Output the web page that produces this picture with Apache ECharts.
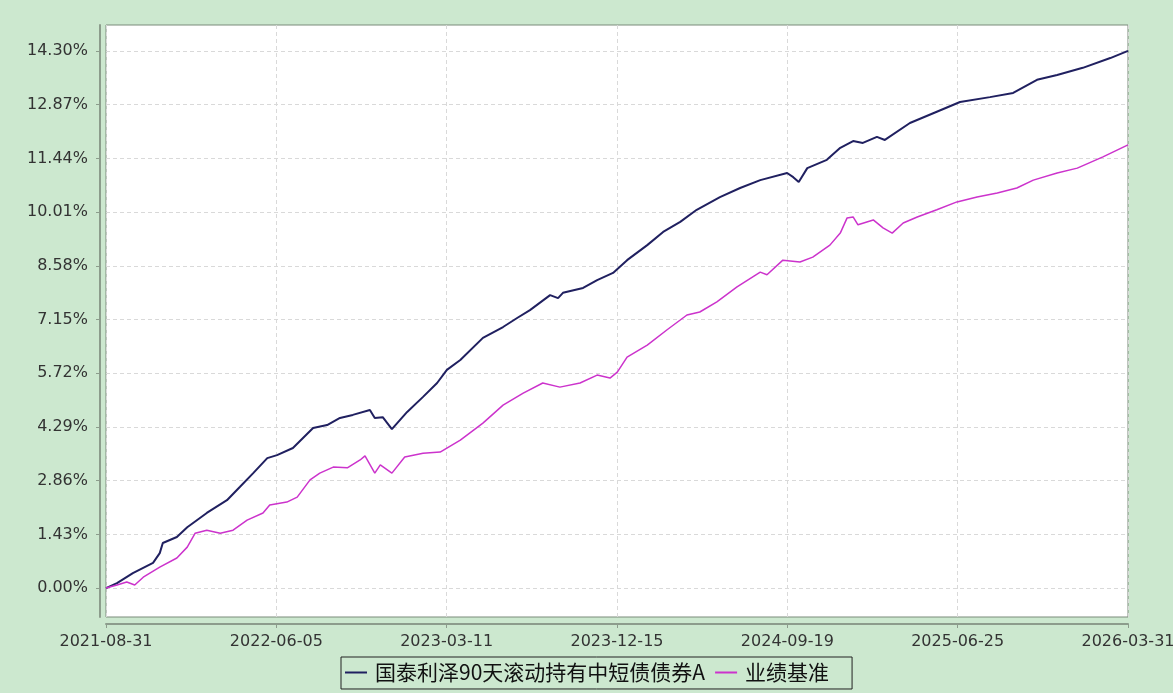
<!DOCTYPE html>
<html>
<head>
<meta charset="utf-8">
<script src="https://cdn.jsdelivr.net/npm/echarts@6/dist/echarts.min.js"></script>
<style>
  html, body { margin: 0; padding: 0; background: #cce8cf; }
  #chart { width: 1173px; height: 693px; }
</style>
</head>
<body>
<div id="chart"></div>
<script>
// x values are days since 2021-08-31, y values are cumulative return in %
const xTickLabels = ['2021-08-31', '2022-06-05', '2023-03-11', '2023-12-15', '2024-09-19', '2025-06-25', '2026-03-31']
const xTickDays = [0, 278.83, 557.67, 836.5, 1115.33, 1394.17, 1673]
const yTicks = [0, 1.43, 2.86, 4.29, 5.72, 7.15, 8.58, 10.01, 11.44, 12.87, 14.30]

const fundName = '国泰利泽90天滚动持有中短债债券A'
const benchName = '业绩基准'

const fundDays = [0, 18, 44, 77, 88, 93, 116, 133, 165, 198, 219, 241, 264, 280, 306, 339, 362, 383, 404, 432, 440, 453, 468, 493, 519, 542, 558, 580, 617, 650, 673, 694, 727, 740, 748, 781, 804, 830, 853, 886, 912, 940, 967, 1005, 1038, 1071, 1115, 1125, 1134, 1148, 1180, 1202, 1223, 1239, 1262, 1275, 1316, 1360, 1398, 1447, 1485, 1524, 1557, 1599, 1644, 1673]
const fundValues = [0.00, 0.13, 0.40, 0.67, 0.93, 1.20, 1.36, 1.62, 2.00, 2.34, 2.69, 3.06, 3.46, 3.54, 3.73, 4.26, 4.34, 4.53, 4.61, 4.74, 4.53, 4.55, 4.23, 4.69, 5.09, 5.46, 5.81, 6.07, 6.66, 6.95, 7.19, 7.40, 7.80, 7.72, 7.86, 7.99, 8.20, 8.39, 8.73, 9.13, 9.48, 9.75, 10.07, 10.41, 10.65, 10.86, 11.05, 10.94, 10.81, 11.18, 11.40, 11.72, 11.90, 11.85, 12.01, 11.93, 12.38, 12.68, 12.94, 13.07, 13.18, 13.53, 13.66, 13.85, 14.11, 14.30]

const benchDays = [0, 18, 34, 47, 61, 88, 116, 133, 146, 165, 187, 208, 231, 257, 268, 296, 313, 334, 350, 372, 395, 416, 424, 440, 449, 468, 489, 519, 547, 580, 617, 650, 683, 715, 743, 776, 804, 825, 837, 853, 886, 918, 951, 972, 1000, 1033, 1071, 1082, 1108, 1136, 1157, 1185, 1202, 1213, 1223, 1231, 1256, 1272, 1287, 1305, 1328, 1360, 1393, 1426, 1459, 1491, 1518, 1557, 1590, 1632, 1673]
const benchValues = [0.00, 0.08, 0.16, 0.08, 0.29, 0.56, 0.80, 1.09, 1.46, 1.54, 1.46, 1.54, 1.81, 2.00, 2.21, 2.29, 2.42, 2.88, 3.06, 3.22, 3.20, 3.41, 3.52, 3.06, 3.28, 3.06, 3.49, 3.59, 3.62, 3.94, 4.39, 4.87, 5.19, 5.46, 5.35, 5.46, 5.67, 5.59, 5.75, 6.15, 6.47, 6.87, 7.27, 7.35, 7.62, 8.02, 8.41, 8.34, 8.73, 8.68, 8.81, 9.13, 9.45, 9.85, 9.88, 9.67, 9.80, 9.59, 9.45, 9.72, 9.88, 10.07, 10.28, 10.41, 10.52, 10.65, 10.86, 11.05, 11.18, 11.48, 11.80]

const pairs = (xs, ys) => xs.map((x, i) => [x, ys[i]])

const chart = echarts.init(document.getElementById('chart'))

const gridLine = { show: true, lineStyle: { color: '#d9d9d9', type: [4, 3], width: 1 } }
const axisColor = '#8c9c8c'
const labelFont = { color: '#333', fontFamily: 'DejaVu Sans', fontSize: 16 }

const option = {
  backgroundColor: '#cce8cf',
  animation: false,
  grid: {
    left: 106,
    right: 45,
    top: 25,
    bottom: 76,
    outerBoundsMode: 'none',
    show: true,
    backgroundColor: '#ffffff',
    borderColor: '#7b8b7b',
    borderWidth: 1
  },
  legend: {
    left: 341,
    top: 657,
    padding: [5, 23, 6, 4],
    itemGap: 10,
    itemWidth: 22,
    itemHeight: 2,
    icon: 'rect',
    borderColor: '#222',
    borderWidth: 1,
    textStyle: {
      fontFamily: 'Noto Sans CJK SC',
      fontSize: 21,
      color: '#111',
      padding: [0, 0, 0, 3]
    },
    data: [fundName, benchName]
  },
  xAxis: {
    type: 'value',
    min: 0,
    max: 1673,
    offset: 7,
    axisLine: { show: true, onZero: false, lineStyle: { color: axisColor, width: 2 } },
    axisTick: { show: true, length: 4, customValues: xTickDays, lineStyle: { color: axisColor } },
    axisLabel: {
      customValues: xTickDays,
      margin: 10,
      ...labelFont,
      formatter: val => {
        const idx = xTickDays.findIndex(d => Math.abs(d - val) < 1)
        return idx >= 0 ? xTickLabels[idx] : ''
      }
    },
    splitLine: gridLine
  },
  yAxis: {
    type: 'value',
    min: -0.77,
    max: 14.99,
    offset: 6,
    axisLine: { show: true, onZero: false, lineStyle: { color: axisColor, width: 2 } },
    axisTick: { show: true, length: 4, customValues: yTicks, lineStyle: { color: axisColor } },
    axisLabel: {
      customValues: yTicks,
      margin: 12,
      ...labelFont,
      formatter: val => val.toFixed(2) + '%'
    },
    splitLine: gridLine
  },
  series: [
    {
      name: fundName,
      type: 'line',
      showSymbol: false,
      symbol: 'none',
      data: pairs(fundDays, fundValues),
      lineStyle: { color: '#202060', width: 2 },
      itemStyle: { color: '#202060' }
    },
    {
      name: benchName,
      type: 'line',
      showSymbol: false,
      symbol: 'none',
      data: pairs(benchDays, benchValues),
      lineStyle: { color: '#cc33cc', width: 1.5 },
      itemStyle: { color: '#cc33cc' }
    }
  ]
}

chart.setOption(option)
</script>
</body>
</html>
